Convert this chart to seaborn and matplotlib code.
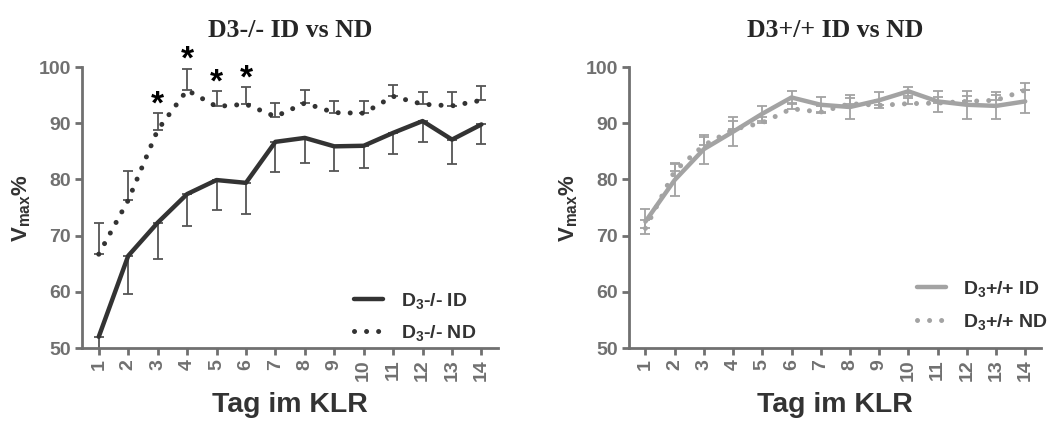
import numpy as np
import pandas as pd
import matplotlib
matplotlib.use("Agg")
import matplotlib.pyplot as plt
import seaborn as sns

days = list(range(1, 15))
y_ticks = [50, 60, 70, 80, 90, 100]

# D3-/- (knockout)
ko_id = [52.0, 66.4, 72.3, 77.4, 79.9, 79.4, 86.7, 87.4, 85.9, 86.0, 88.3, 90.4, 87.1, 89.8]
ko_id_err = [3.0, 6.8, 6.5, 5.7, 5.3, 5.5, 5.3, 4.4, 4.4, 3.9, 3.7, 3.8, 4.4, 3.4]
ko_nd = [66.7, 76.3, 88.8, 95.9, 93.0, 93.4, 91.2, 93.6, 91.9, 91.8, 94.8, 93.4, 93.1, 94.1]
ko_nd_err = [5.6, 5.2, 3.0, 3.8, 2.7, 3.0, 2.5, 2.4, 2.1, 2.2, 2.1, 2.2, 2.5, 2.5]
sig_days = [3, 4, 5, 6]

# D3+/+ (wild type)
wt_id = [72.5, 79.9, 85.4, 88.5, 91.7, 94.6, 93.3, 92.9, 94.1, 95.7, 93.9, 93.3, 93.1, 93.9]
wt_id_err = [2.2, 2.8, 2.6, 2.6, 1.3, 1.2, 1.4, 2.2, 1.4, 0.8, 1.9, 2.5, 2.4, 2.0]
wt_nd = [71.3, 81.5, 86.1, 88.9, 90.1, 92.6, 92.0, 93.5, 93.2, 93.5, 93.6, 93.9, 94.1, 95.9]
wt_nd_err = [1.5, 1.5, 1.5, 1.5, 1.0, 1.0, 1.0, 1.0, 1.0, 1.0, 1.0, 1.0, 1.0, 1.3]

sns.set_style("ticks")
plt.rcParams["font.family"] = ["Liberation Sans", "DejaVu Sans"]
plt.rcParams["font.weight"] = "bold"
plt.rcParams["mathtext.fontset"] = "custom"
plt.rcParams["mathtext.rm"] = "Liberation Sans:bold"
plt.rcParams["mathtext.it"] = "Liberation Sans:bold"
plt.rcParams["mathtext.bf"] = "Liberation Sans:bold"

AXIS_GREY = "#707070"
TEXT_DARK = "#333333"

fig = plt.figure(figsize=(10.55, 4.23), dpi=100)
ax1 = fig.add_axes([0.0777, 0.1773, 0.394, 0.664])
ax2 = fig.add_axes([0.596, 0.1773, 0.391, 0.664])

dot_style = (0, (0.01, 2.4))


def draw_panel(ax, id_vals, id_err, nd_vals, nd_err, color, err_color, id_label, nd_label,
               id_both, leg_anchor):
    df = pd.DataFrame({"Tag": days, "ID": id_vals, "ND": nd_vals})
    if id_both:
        yerr_id = [id_err, id_err]
    else:
        yerr_id = [id_err, [0] * len(id_err)]
    ax.errorbar(days, id_vals, yerr=yerr_id, fmt="none", ecolor=err_color,
                elinewidth=1.3, capsize=3.8, capthick=1.3, zorder=2)
    ax.errorbar(days, nd_vals, yerr=[[0] * len(nd_err), nd_err], fmt="none",
                ecolor=err_color, elinewidth=1.3, capsize=3.8, capthick=1.3, zorder=2)
    sns.lineplot(data=df, x="Tag", y="ID", ax=ax, color=color, lw=3.2,
                 label=id_label, zorder=3)
    sns.lineplot(data=df, x="Tag", y="ND", ax=ax, color=color, lw=3.6,
                 linestyle=dot_style, dash_capstyle="round", label=nd_label, zorder=3)

    ax.set_xlim(0.43, 14.55)
    ax.set_ylim(50, 100)
    ax.tick_params(axis="both", colors=AXIS_GREY, width=2, length=5, pad=3)
    ax.set_xticks(days, labels=[str(d) for d in days], rotation=90,
                  fontsize=14, fontweight="bold", color=AXIS_GREY)
    ax.set_yticks(y_ticks, labels=[str(v) for v in y_ticks],
                  fontsize=14, fontweight="bold", color=AXIS_GREY)
    for side in ["top", "right"]:
        ax.spines[side].set_visible(False)
    for side in ["left", "bottom"]:
        ax.spines[side].set_color(AXIS_GREY)
        ax.spines[side].set_linewidth(2)
    ax.set_xlabel("Tag im KLR", fontsize=20.5, fontweight="bold", color=TEXT_DARK, labelpad=8)
    ax.set_ylabel(r"V$_{max}$%", fontsize=16, fontweight="bold", color=TEXT_DARK, labelpad=4)
    ax.grid(False)
    leg = ax.legend(loc="lower right", frameon=False, fontsize=14, handlelength=1.5,
                    handletextpad=0.9, labelspacing=0.65, bbox_to_anchor=leg_anchor)
    for t in leg.get_texts():
        t.set_color(TEXT_DARK)


draw_panel(ax1, ko_id, ko_id_err, ko_nd, ko_nd_err, "#333333", "#555555",
           r"$D_3$-/- ID", r"$D_3$-/- ND", id_both=False, leg_anchor=(0.99, -0.045))
draw_panel(ax2, wt_id, wt_id_err, wt_nd, wt_nd_err, "#a3a3a3", "#a3a3a3",
           r"$D_3$+/+ ID", r"$D_3$+/+ ND", id_both=True, leg_anchor=(1.06, -0.005))

# significance stars above the ND error bars
for d in sig_days:
    i = days.index(d)
    ax1.annotate("*", (d, ko_nd[i] + ko_nd_err[i]), xytext=(0, -5), textcoords="offset points",
                 ha="center", va="bottom", fontsize=24, fontweight="bold", color="black",
                 annotation_clip=False)

ax1.set_title("D3-/- ID vs ND", fontfamily="Liberation Serif", fontsize=18.5,
              fontweight="bold", pad=22)
ax2.set_title("D3+/+ ID vs ND", fontfamily="Liberation Serif", fontsize=18.5,
              fontweight="bold", pad=22)

fig.savefig("out.png", dpi=100)
